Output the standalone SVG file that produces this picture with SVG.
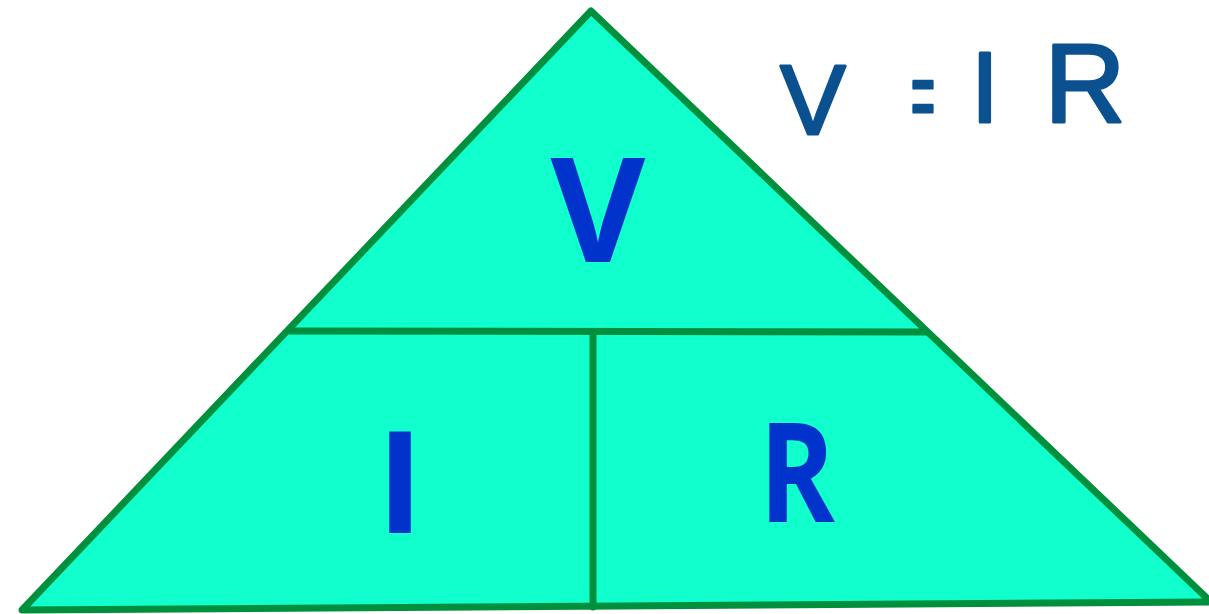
<svg xmlns="http://www.w3.org/2000/svg" width="1209" height="614" viewBox="0 0 1209 614">
<style>
.line{stroke:#008f3c;stroke-width:7;fill:none;stroke-linecap:round}
.big{font-family:"Open Sans","Liberation Sans",sans-serif;font-weight:bold;fill:#0033cc;text-anchor:middle}
.hand{font-family:"Liberation Sans","DejaVu Sans",sans-serif;fill:#0b5190;stroke:#0b5190;stroke-width:3;stroke-linejoin:round;stroke-linecap:round;text-anchor:middle}
</style>
<rect width="1209" height="614" fill="#ffffff"/>
<g id="triangle">
<polygon points="591,11 1211,602 22,610" fill="#10ffcc" stroke="#008f3c" stroke-width="7" stroke-linejoin="round"/>
</g>
<g id="connectors">
<line class="line" x1="289" y1="331" x2="925" y2="332"/>
<line class="line" x1="593" y1="334" x2="593" y2="607"/>
</g>
<g id="node-V"><text class="big" x="598" y="262" font-size="146">V</text></g>
<g id="node-I"><text class="big" x="400" y="533" font-size="142">I</text></g>
<g id="node-R"><text class="big" x="797" y="522" font-size="138" textLength="76" lengthAdjust="spacingAndGlyphs">R</text></g>
<g id="formula">
<text class="hand" font-size="98" x="813" y="134">V</text>
<text class="hand" font-size="95" x="923" y="128" textLength="24" lengthAdjust="spacingAndGlyphs">=</text>
<text class="hand" font-size="100" x="985" y="122">I</text>
<text class="hand" font-size="112" x="1085" y="122">R</text>
</g>
</svg>
